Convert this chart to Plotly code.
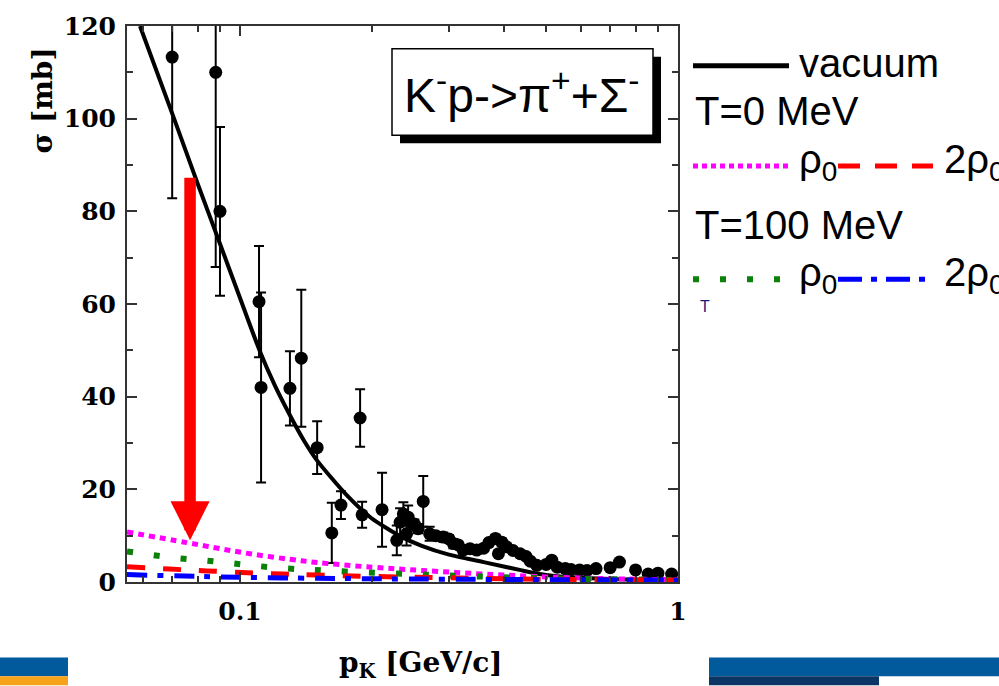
import math
import plotly.graph_objects as go

# ---------------- data ----------------
exp_p = [0.070, 0.088, 0.090, 0.1105, 0.1117, 0.130, 0.138, 0.150, 0.162, 0.170,
         0.188, 0.190, 0.211, 0.228, 0.232, 0.236, 0.240, 0.242, 0.262, 0.271,
         0.291, 0.307, 0.323, 0.347, 0.383, 0.389, 0.396, 0.406, 0.436, 0.476,
         0.515, 0.553, 0.596, 0.650, 0.700, 0.735, 0.800, 0.855, 0.900, 0.967,
         0.250, 0.255, 0.280, 0.300, 0.315, 0.335, 0.360, 0.370, 0.420, 0.450,
         0.460, 0.500, 0.530, 0.570, 0.620]
exp_sigma = [113.3, 110.0, 80.0, 60.5, 42.0, 41.8, 48.3, 29.0, 10.6, 16.6,
             35.4, 14.5, 15.6, 9.0, 12.9, 14.7, 10.4, 14.0, 17.4, 10.4,
             9.7, 8.3, 6.9, 6.9, 9.4, 6.1, 8.6, 7.6, 6.1, 3.6,
             4.7, 2.9, 2.6, 2.9, 3.1, 4.3, 2.6, 1.7, 1.9, 1.7,
             12.5, 11.5, 10.0, 9.3, 8.0, 7.2, 7.3, 8.5, 6.8, 5.5,
             4.5, 3.8, 3.2, 2.7, 2.5]
exp_err = [30.5, 42.0, 18.2, 12.0, 20.5, 8.0, 14.8, 5.7, 6.5, 3.0,
           6.2, 2.8, 8.0, 3.2, 3.0, 2.5, 2.5, 2.5, 5.5, 1.5,
           1.0, 1.0, 0.8, 0.8, 0.8, 0.5, 0.8, 0.5, 0.5, 0.4,
           0.4, 0.3, 0.3, 0.3, 0.3, 0.3, 0.3, 0.2, 0.2, 0.2,
           1.0, 1.0, 0.8, 0.8, 0.6, 0.6, 0.6, 0.6, 0.5, 0.4,
           0.4, 0.3, 0.3, 0.3, 0.3]

vac_p = [0.0591, 0.0704, 0.080, 0.090, 0.100, 0.111, 0.120, 0.130, 0.140, 0.150,
         0.175, 0.200, 0.232, 0.260, 0.300, 0.360, 0.440, 0.500, 0.600, 0.800, 1.000]
vac_sigma = [120, 100.5, 86, 73, 61.3, 49.8, 42.5, 36.0, 30.5, 26.2,
             18.8, 13.7, 9.9, 7.8, 5.9, 4.3, 2.5, 1.5, 0.9, 0.5, 0.4]

t0_rho_p = [0.0552, 0.0756, 0.090, 0.107, 0.130, 0.150, 0.200, 0.260, 0.380, 0.500, 0.700, 1.000]
t0_rho_s = [10.8, 8.5, 7.2, 6.0, 4.9, 4.2, 3.2, 2.5, 1.6, 1.1, 0.7, 0.5]

t0_2rho_p = [0.0552, 0.069, 0.084, 0.104, 0.125, 0.150, 0.200, 0.300, 0.500, 1.000]
t0_2rho_s = [3.3, 2.8, 2.4, 2.0, 1.7, 1.5, 1.2, 0.9, 0.6, 0.4]

t100_rho_p = [0.0552, 0.0634, 0.073, 0.084, 0.0966, 0.111, 0.129, 0.147, 0.180, 0.250, 0.350, 0.500, 0.700, 1.000]
t100_rho_s = [6.6, 5.8, 5.1, 4.6, 4.0, 3.4, 2.9, 2.6, 2.2, 1.7, 1.2, 0.8, 0.6, 0.4]

t100_2rho_p = [0.0552, 0.080, 0.100, 0.150, 0.200, 0.300, 0.500, 1.000]
t100_2rho_s = [1.6, 1.2, 1.0, 0.8, 0.7, 0.6, 0.5, 0.4]

x_major = [0.1, 1]
x_major_text = ["0.1", "1"]
x_minor = [0.06, 0.07, 0.08, 0.09, 0.2, 0.3, 0.4, 0.5, 0.6, 0.7, 0.8, 0.9]
y_ticks = [0, 20, 40, 60, 80, 100, 120]

# ---------------- layout geometry ----------------
W, H = 999, 686
L, R, T, B = 127, 678, 22, 582


def px(x):
    return (x - L) / (R - L)


def py(y):
    return (B - y) / (B - T)


SERIF = "DejaVu Serif"
SANS = "Liberation Sans"

fig = go.Figure()

fig.add_trace(go.Scatter(
    x=vac_p, y=vac_sigma, mode="lines",
    line=dict(color="black", width=4, shape="spline", smoothing=0.6),
    showlegend=False, hoverinfo="skip"))

fig.add_trace(go.Scatter(
    x=exp_p, y=exp_sigma, mode="markers",
    marker=dict(color="black", size=13),
    error_y=dict(type="data", array=exp_err, color="black", thickness=2, width=5),
    showlegend=False))

fig.add_trace(go.Scatter(
    x=t0_rho_p, y=t0_rho_s, mode="lines",
    line=dict(color="#ff00ff", width=5, dash="6px,5px", shape="spline"), showlegend=False))
fig.add_trace(go.Scatter(
    x=t100_rho_p, y=t100_rho_s, mode="lines",
    line=dict(color="#0a820a", width=6, dash="6px,21px", shape="spline"), showlegend=False))
fig.add_trace(go.Scatter(
    x=t0_2rho_p, y=t0_2rho_s, mode="lines",
    line=dict(color="#ff0000", width=5, dash="18px,18px", shape="spline"), showlegend=False))
fig.add_trace(go.Scatter(
    x=t100_2rho_p, y=t100_2rho_s, mode="lines",
    line=dict(color="#0000ff", width=5, dash="20px,10px,6px,11px", shape="spline"), showlegend=False))

axis_common = dict(
    showline=True, linecolor="#333333", linewidth=2, mirror="ticks",
    ticks="inside", tickcolor="#333333", tickwidth=2, ticklen=10,
    showgrid=False, zeroline=False,
    tickfont=dict(family=SERIF, size=25, color="black", weight="bold"),
)

fig.update_layout(
    width=W, height=H,
    margin=dict(l=L, r=W - R, t=T, b=H - B, pad=0),
    paper_bgcolor="white", plot_bgcolor="white",
    showlegend=False,
    xaxis=dict(type="log", range=[math.log10(0.0552), 0],
               tickmode="array", tickvals=x_major, ticktext=x_major_text,
               minor=dict(tickmode="array", tickvals=x_minor, ticks="inside",
                          ticklen=6, tickwidth=2, tickcolor="#333333"),
               ticklabelstandoff=6,
               **axis_common),
    yaxis=dict(range=[0, 120], tickmode="array", tickvals=y_ticks,
               minor=dict(dtick=10, ticks="inside", ticklen=6, tickwidth=2, tickcolor="#333333"),
               ticklabelstandoff=4,
               **axis_common),
)

shapes = []
annotations = []

# reaction label box with shadow
shapes.append(dict(type="rect", xref="paper", yref="paper",
                   x0=px(400), x1=px(661), y0=py(140), y1=py(53),
                   fillcolor="black", line=dict(width=0), layer="above"))
shapes.append(dict(type="rect", xref="paper", yref="paper",
                   x0=px(392), x1=px(653), y0=py(132), y1=py(45),
                   fillcolor="white", line=dict(color="black", width=1.5), layer="above"))
annotations.append(dict(xref="paper", yref="paper", x=px(522), y=py(88),
                        xanchor="center", yanchor="middle", showarrow=False,
                        text="K<sup>-</sup>p-&gt;π<sup>+</sup>+Σ<sup>-</sup>",
                        font=dict(family=SANS, size=48, color="black")))

# red arrow
annotations.append(dict(xref="x", yref="y", x=math.log10(0.0769), y=9.0,
                        ax=0, ay=-364, axref="pixel", ayref="pixel",
                        showarrow=True, arrowhead=2, arrowsize=0.68, arrowwidth=11.5,
                        arrowcolor="#ff0000", text=""))

# custom legend
legend_lines = [
    (693, 789, 62, "black", "solid", 5),
    (693, 789, 163, "#ff00ff", "5px,4px", 5),
    (838, 933, 163, "#ff0000", "22px,15px", 5),
    (693, 785, 277, "#0a820a", "6px,21px", 6),
    (838, 930, 277, "#0000ff", "24px,9px,6px,9px", 5),
]
for x0, x1, yy, col, dash, wd in legend_lines:
    shapes.append(dict(type="line", xref="paper", yref="paper",
                       x0=px(x0), x1=px(x1), y0=py(yy), y1=py(yy),
                       line=dict(color=col, width=wd, dash=dash)))

legend_texts = [
    (797, 59, "vacuum"),
    (693, 108, "T=0 MeV"),
    (797, 159, "ρ<sub>0</sub>"),
    (942, 159, "2ρ<sub>0</sub>"),
    (693, 222, "T=100 MeV"),
    (797, 273, "ρ<sub>0</sub>"),
    (942, 273, "2ρ<sub>0</sub>"),
]
for xx, yy, txt in legend_texts:
    annotations.append(dict(xref="paper", yref="paper", x=px(xx), y=py(yy),
                            xanchor="left", yanchor="middle", showarrow=False,
                            text=txt, font=dict(family=SANS, size=40, color="black")))
annotations.append(dict(xref="paper", yref="paper", x=px(705), y=py(305),
                        xanchor="center", yanchor="middle", showarrow=False,
                        text="T", font=dict(family=SANS, size=16, color="#1a1a80")))

# axis titles
annotations.append(dict(xref="paper", yref="paper", x=px(421), y=py(665),
                        xanchor="center", yanchor="middle", showarrow=False,
                        text="p<sub>K</sub> [GeV/c]",
                        font=dict(family=SERIF, size=28, color="black", weight="bold")))
annotations.append(dict(xref="paper", yref="paper", x=px(42), y=py(97),
                        xanchor="center", yanchor="middle", showarrow=False, textangle=-90,
                        text="σ [mb]",
                        font=dict(family=SERIF, size=28, color="black", weight="bold")))

# bottom decoration bars
bars = [
    (0, 68, 658, 677, "#005a9c"),
    (0, 68, 677, 686, "#f7a21b"),
    (709, 999, 658, 677, "#005a9c"),
    (709, 879, 677, 686, "#0b3564"),
]
for x0, x1, y0, y1, col in bars:
    shapes.append(dict(type="rect", xref="paper", yref="paper",
                       x0=px(x0), x1=px(x1), y0=py(y1), y1=py(y0),
                       fillcolor=col, line=dict(width=0), layer="above"))

fig.update_layout(shapes=shapes, annotations=annotations)
fig.write_html("out.html")
